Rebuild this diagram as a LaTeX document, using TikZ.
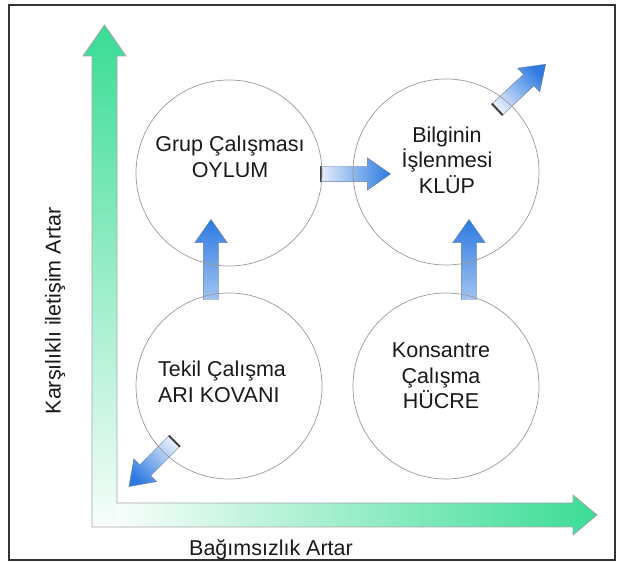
\documentclass[tikz,border=0pt]{standalone}
\usepackage{fontspec}
\setmainfont{Liberation Sans}
\usetikzlibrary{shapes.arrows}
\definecolor{axisGreen}{RGB}{58,220,150}
\definecolor{flowBlue}{RGB}{45,122,224}
\definecolor{flowPale}{RGB}{226,236,250}

\begin{document}
\begin{tikzpicture}[x=1pt,y=1pt,
	phaseCircle/.style={circle, draw=black!40, line width=0.7pt, minimum size=186pt, inner sep=0pt},
	phaseText/.style={font=\fontsize{21.5}{25.5}\selectfont, text=black!90, align=center},
	axisLabel/.style={font=\fontsize{21.5}{25.5}\selectfont, text=black!90},
	axisLine/.style={draw=black!35, line width=0.8pt},
	flowArrow/.style={single arrow, draw=flowBlue!35!gray, line width=0.4pt,
		top color=flowBlue, bottom color=flowPale, inner xsep=0pt, inner ysep=7.5pt,
		single arrow head extend=8.5pt, single arrow tip angle=70, minimum height=#1},
	tailMark/.style={line width=2pt, black!75}]
\useasboundingbox (0,0) rectangle (619,562);
\draw[line width=1.4pt, black!80] (9,2) rectangle (615,557);
	\shade[top color=axisGreen, bottom color=axisGreen!4]
		(92,35) -- (92,506) -- (83,506) -- (104.5,537) -- (126,506) -- (117,506) -- (117,35) -- cycle;
	\shade[left color=axisGreen!4, right color=axisGreen]
		(117,35) -- (573,35) -- (573,27) -- (597,47) -- (573,67) -- (573,59) -- (117,59) -- cycle;
	\draw[axisLine] (92,35) -- (92,506) -- (83,506) -- (104.5,537) -- (126,506) -- (117,506)
		-- (117,59) -- (573,59) -- (573,67) -- (597,47) -- (573,27) -- (573,35) -- cycle;
	\node[axisLabel, rotate=90] (yLabel) at (55,251) {Karşılıklı iletişim Artar};
	\node[axisLabel, anchor=base] (xLabel) at (271,6) {Bağımsızlık Artar};
	\node[flowArrow=80pt, rotate=90, bottom color=flowBlue!45, shading angle=0] (riseLeft) at (211,297) {};
	\node[flowArrow=80pt, rotate=90, bottom color=flowBlue!45, shading angle=0] (riseRight) at (469,297) {};
	\node[flowArrow=69pt, shading angle=-90] (toKlup) at (350.5,388) {};
	\node[flowArrow=66pt, rotate=43, shading angle=-47] (outKlup) at (517.5,471.5) {};
	\node[flowArrow=64pt, rotate=225, shading angle=135] (outKovan) at (155.5,102) {};
	\foreach \a in {toKlup,outKlup,outKovan}
		\draw[tailMark] (\a.before tail) -- (\a.after tail);
	\node[phaseCircle] (oylum) at (229,389) {};
	\node[phaseCircle] (klup) at (446,390) {};
	\node[phaseCircle] (kovan) at (229,176) {};
	\node[phaseCircle] (hucre) at (446,176) {};
	\node[phaseText] (oylumText) at (230,405) {Grup Çalışması\\OYLUM};
	\node[phaseText] (klupText) at (447,402) {Bilginin\\İşlenmesi\\KLÜP};
	\node[phaseText, align=left] (kovanText) at (222,180) {Tekil Çalışma\\ARI KOVANI};
	\node[phaseText] (hucreText) at (441,186) {Konsantre\\Çalışma\\HÜCRE};
\end{tikzpicture}
\end{document}
